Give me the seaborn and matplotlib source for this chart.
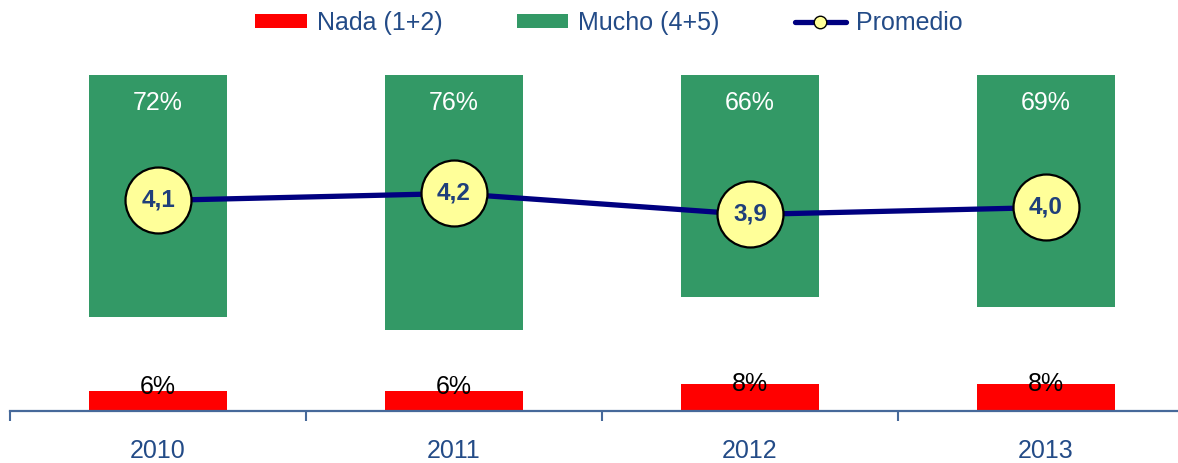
import numpy as np
import pandas as pd
import matplotlib
matplotlib.use("Agg")
import matplotlib.pyplot as plt
import seaborn as sns
from matplotlib.patches import Patch
from matplotlib.lines import Line2D

# ---- data ----
years = ["2010", "2011", "2012", "2013"]
nada = [6, 6, 8, 8]          # Nada (1+2) %
mucho = [72, 76, 66, 69]     # Mucho (4+5) %
promedio = [4.1, 4.2, 3.9, 4.0]
legend_labels = ["Nada (1+2)", "Mucho (4+5)", "Promedio"]

# ---- style ----
sns.set_theme(style="white")
plt.rcParams["font.family"] = ["Liberation Sans", "DejaVu Sans"]

RED = "#FF0000"
GREEN = "#339966"
NAVY = "#000080"
YELLOW = "#FFFF99"
TXT_BLUE = "#234B87"
NUM_BLUE = "#1F3F7A"
AXIS_COL = "#46699A"

W, H = 1178, 463
fig = plt.figure(figsize=(W / 100, H / 100), dpi=100)
fig.patch.set_facecolor("white")
ax = fig.add_axes([10 / W, 52 / H, 1184 / W, 411 / H])

df = pd.DataFrame({"year": years, "nada": nada, "mucho": mucho, "prom": promedio})
pos = np.arange(len(years))

# green bars hang from 100 %
sns.barplot(data=df, x="year", y="mucho", ax=ax, color=GREEN, saturation=1,
            width=0.466, bottom=[100 - v for v in mucho], linewidth=0, zorder=2)
# red bars from 0
sns.barplot(data=df, x="year", y="nada", ax=ax, color=RED, saturation=1,
            width=0.466, linewidth=0, zorder=2)

ax.set_xlim(-0.5, len(years) - 0.5)
ax.set_ylim(0, 411 / 3.36)
ax.set_xlabel("")
ax.set_ylabel("")
ax.set_yticks([])

for i, v in enumerate(mucho):
    ax.text(pos[i], 100 - 8.3, f"{v}%", ha="center", va="center",
            color="white", fontsize=18, zorder=5)
for i, v in enumerate(nada):
    ax.text(pos[i], v * 0.5 + 4.0, f"{v}%", ha="center", va="center",
            color="black", fontsize=18, zorder=5)

# x axis: ticks at boundaries, labels at centers
ax.set_xticks(np.arange(-0.5, len(years), 1.0))
ax.set_xticklabels([""] * (len(years) + 1))
ax.set_xticks(pos, minor=True)
ax.set_xticklabels(years, minor=True)
ax.tick_params(axis="x", which="major", length=7, width=1.5, color=AXIS_COL,
               direction="out", bottom=True)
ax.tick_params(axis="x", which="minor", length=0, pad=20, labelsize=18,
               labelcolor=TXT_BLUE, bottom=True)
for s in ["top", "left", "right"]:
    ax.spines[s].set_visible(False)
ax.spines["bottom"].set_color(AXIS_COL)
ax.spines["bottom"].set_linewidth(1.6)

# promedio on secondary axis
ax2 = ax.twinx()
sns.lineplot(x=pos, y=promedio, ax=ax2, color=NAVY, linewidth=3.8,
             marker="o", markersize=47.5, markerfacecolor=YELLOW,
             markeredgecolor="black", markeredgewidth=1.6, zorder=3)
ax2.set_ylim(1.093, 6.964)
ax2.set_xlim(-0.5, len(years) - 0.5)
ax2.set_yticks([])
ax2.set_ylabel("")
for s in ["top", "left", "right", "bottom"]:
    ax2.spines[s].set_visible(False)
for i, p in enumerate(promedio):
    ax2.text(pos[i], p, f"{p:.1f}".replace(".", ","), ha="center", va="center",
             color=NUM_BLUE, fontsize=17.5, fontweight="bold", zorder=6)

handles = [
    Patch(facecolor=RED, edgecolor="none"),
    Patch(facecolor=GREEN, edgecolor="none"),
    Line2D([], [], color=NAVY, linewidth=3.8, marker="o", markersize=9,
           markerfacecolor=YELLOW, markeredgecolor="black", markeredgewidth=1),
]
fig.legend(handles, legend_labels, loc="center", ncol=3,
           bbox_to_anchor=(609 / W, 1 - 23 / H), frameon=False, fontsize=18,
           handlelength=2.05, handleheight=0.45, handletextpad=0.4,
           columnspacing=3.0, labelcolor=TXT_BLUE)

fig.savefig("out.png", dpi=100, facecolor="white")
